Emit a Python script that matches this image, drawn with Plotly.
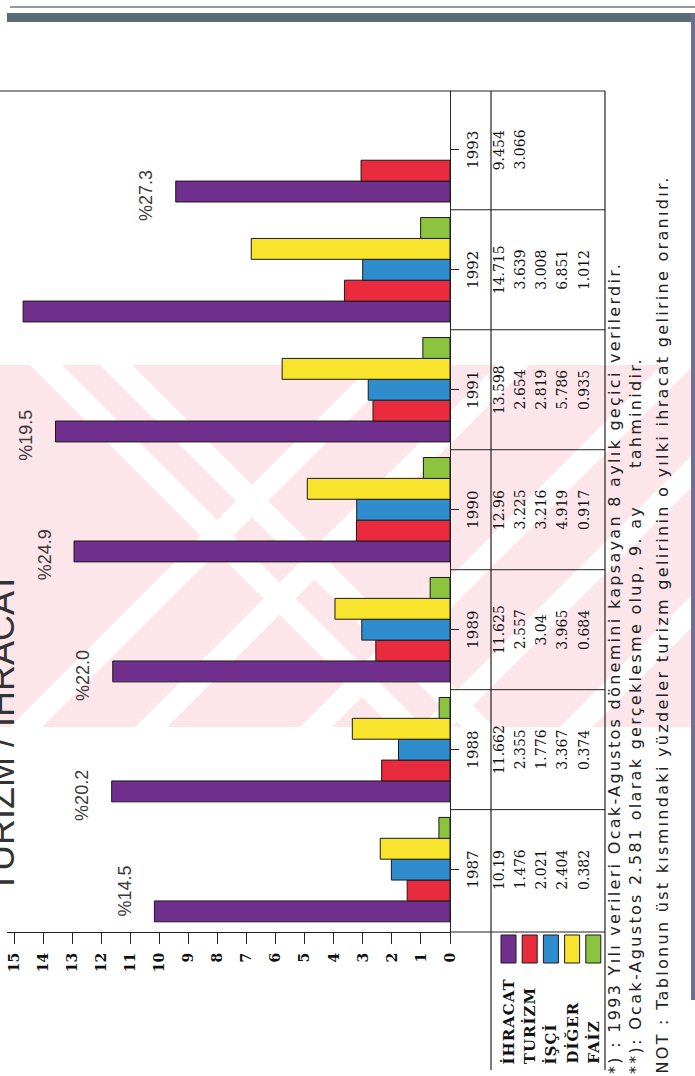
import json
import plotly.graph_objects as go

# ---- data -------------------------------------------------------------
years = ["1987", "1988", "1989", "1990", "1991", "1992", "1993"]
series_names = ["İHRACAT", "TURİZM", "İŞÇİ", "DİĞER", "FAİZ"]
ihracat = [10.19, 11.662, 11.625, 12.96, 13.598, 14.715, 9.454]
turizm = [1.476, 2.355, 2.557, 3.225, 2.654, 3.639, 3.066]
isci = [2.021, 1.776, 3.04, 3.216, 2.819, 3.008, None]
diger = [2.404, 3.367, 3.965, 4.919, 5.786, 6.851, None]
faiz = [0.382, 0.374, 0.684, 0.917, 0.935, 1.012, None]
turizm_pct = [14.5, 20.2, 22.0, 24.9, 19.5, None, 27.3]
value_ticks = list(range(0, 16))
title_text = "TURİZM / İHRACAT"
footnotes = [
    "*) : 1993 Yılı verileri Ocak-Agustos dönemini kapsayan 8 aylık geçici verilerdir.",
    "**): Ocak-Agustos 2.581 olarak gerçeklesme olup, 9. ay\u00a0\u00a0\u00a0\u00a0\u00a0tahminidir.",
    "NOT : Tablonun üst kısmındaki yüzdeler turizm gelirinin o yılki ihracat gelirine oranıdır.",
]

series = [ihracat, turizm, isci, diger, faiz]
colors = ["#72308e", "#ea2a3d", "#2f8ccd", "#f8e42c", "#8cc43f"]

# ---- page geometry (pixels) --------------------------------------------
W, H = 695, 1076
L, R, T, B = 7, 450, 91, 932          # plot area
TABLE_RIGHT = 605
YEAR_DIV = 491
ROW_X = [508.5 + 21.2 * s for s in range(len(series_names))]
NOTE_SPACING = 2.3                     # letter spacing of the footnotes, px
LEGEND_SPACING = 1.0                   # letter spacing of the legend labels, px


def px(x):
    return (x - L) / (R - L)


def py(y):
    return (B - y) / (B - T)


ypos = list(range(len(years)))

fig = go.Figure()
for name, vals, col in zip(series_names, series, colors):
    fig.add_trace(go.Bar(
        x=vals, y=ypos, orientation="h", name=name,
        marker=dict(color=col, line=dict(color="#1a1a1a", width=1)),
        showlegend=False, hoverinfo="skip",
    ))

shapes = []

# faint pink band with white diagonal stripes behind everything
band_top, band_bot = 365, 727
shapes.append(dict(type="rect", xref="paper", yref="paper", layer="below",
                   x0=px(0), x1=px(W), y0=py(band_bot), y1=py(band_top),
                   fillcolor="#fce6ea", line=dict(width=0)))
span = band_bot - band_top
sw = 32
for xb in [10, 135, 300, 420, 560]:
    pts = [(xb, band_bot), (xb + sw, band_bot), (xb + sw + span, band_top), (xb + span, band_top)]
    path = "M " + " L ".join(f"{px(a):.5f},{py(b):.5f}" for a, b in pts) + " Z"
    shapes.append(dict(type="path", xref="paper", yref="paper", layer="below",
                       path=path, fillcolor="white", line=dict(width=0)))
for xt in [30, 100]:
    pts = [(xt, band_top), (xt + sw, band_top), (xt + sw + span, band_bot), (xt + span, band_bot)]
    path = "M " + " L ".join(f"{px(a):.5f},{py(b):.5f}" for a, b in pts) + " Z"
    shapes.append(dict(type="path", xref="paper", yref="paper", layer="below",
                       path=path, fillcolor="white", line=dict(width=0)))

line_style = dict(color="#222", width=1.2)
# top rule over plot and table
shapes.append(dict(type="line", xref="paper", yref="paper",
                   x0=px(0), x1=px(TABLE_RIGHT), y0=py(T), y1=py(T), line=line_style))
# bottom rule of the table
shapes.append(dict(type="line", xref="paper", yref="paper",
                   x0=px(R), x1=px(TABLE_RIGHT), y0=py(B), y1=py(B), line=line_style))
# year divider and right border
for xv in [YEAR_DIV, TABLE_RIGHT]:
    shapes.append(dict(type="line", xref="paper", yref="paper",
                       x0=px(xv), x1=px(xv), y0=py(T), y1=py(1070), line=line_style))
# row separators between years
for i in range(len(years) - 1):
    shapes.append(dict(type="line", xref="paper", yref="y",
                       x0=px(R), x1=px(TABLE_RIGHT), y0=i + 0.5, y1=i + 0.5,
                       line=dict(color="#222", width=1)))
# legend swatches
for s, col in enumerate(colors):
    shapes.append(dict(type="rect", xref="paper", yref="paper",
                       x0=px(ROW_X[s] - 7.5), x1=px(ROW_X[s] + 7.5),
                       y0=py(963), y1=py(935), fillcolor=col,
                       line=dict(color="#1a1a1a", width=1)))
# scanned page edges
shapes.append(dict(type="line", xref="paper", yref="paper",
                   x0=px(10), x1=px(W), y0=py(7), y1=py(7), line=dict(color="#333", width=1)))
shapes.append(dict(type="rect", xref="paper", yref="paper",
                   x0=px(7), x1=px(W), y0=py(22), y1=py(13),
                   fillcolor="#5a6c76", line=dict(width=0)))
shapes.append(dict(type="rect", xref="paper", yref="paper",
                   x0=px(691), x1=px(W), y0=py(1000), y1=py(13),
                   fillcolor="#707094", line=dict(width=0)))

annotations = []
# percentage labels beside the export bars (first one kept clear of the axis)
for i, p in enumerate(turizm_pct):
    if p is None:
        continue
    annotations.append(dict(xref="x", yref="y", x=ihracat[i] + 1.0, y=max(i - 0.38, -0.18),
                            text=f"%{p:.1f}", textangle=-90, showarrow=False,
                            font=dict(family="Liberation Sans, Arial", size=18, color="#3a3a3a")))
# table: years and values
for i, yr in enumerate(years):
    annotations.append(dict(xref="paper", yref="y", x=px(484), y=i, text=yr,
                            textangle=-90, showarrow=False,
                            font=dict(family="DejaVu Serif", size=15, color="#111")))
    for s, vals in enumerate(series):
        v = vals[i]
        if v is None:
            continue
        annotations.append(dict(xref="paper", yref="y", x=px(ROW_X[s]), y=i, text=str(v),
                                textangle=-90, showarrow=False,
                                font=dict(family="DejaVu Serif", size=14, color="#111")))
# legend labels, starting just above the page foot
for s, name in enumerate(series_names):
    grow = LEGEND_SPACING * len(name) / 2
    annotations.append(dict(xref="paper", yref="paper", x=px(ROW_X[s]), y=py(1066 - grow),
                            xanchor="center", yanchor="bottom", text=name,
                            textangle=-90, showarrow=False,
                            font=dict(family="DejaVu Serif", size=15, color="#111", weight="bold")))
# title, running along the left edge
annotations.append(dict(xref="paper", yref="paper", x=px(24), y=py(895),
                        xanchor="right", yanchor="bottom", text=title_text,
                        textangle=-90, showarrow=False,
                        font=dict(family="Liberation Sans Narrow, Liberation Sans, Arial", size=36, color="#333")))
# footnotes; the start is shifted so the spaced-out text begins near the page foot
for xf, txt in zip([615, 635, 662], footnotes):
    grow = NOTE_SPACING * len(txt) / 2
    annotations.append(dict(xref="paper", yref="paper", x=px(xf), y=py(1076 - grow),
                            xanchor="center", yanchor="bottom", text=txt,
                            textangle=-90, showarrow=False,
                            font=dict(family="DejaVu Sans", size=16, color="#222")))

fig.update_layout(
    width=W, height=H,
    margin=dict(l=L, r=W - R, t=T, b=H - B, pad=0),
    paper_bgcolor="white", plot_bgcolor="rgba(0,0,0,0)",
    barmode="group", bargap=0.13, bargroupgap=0,
    showlegend=False, shapes=shapes, annotations=annotations,
)
fig.update_xaxes(
    range=[15.27, 0], tickmode="array", tickvals=value_ticks,
    ticktext=[str(v) for v in value_ticks], tickangle=-90,
    ticks="outside", ticklen=11, tickwidth=1, tickcolor="#222",
    showline=True, linecolor="#222", linewidth=1.3,
    showgrid=False, zeroline=False, ticklabelstandoff=3,
    tickfont=dict(family="DejaVu Serif", size=14, color="#111", weight="bold"),
)
fig.update_yaxes(
    range=[-0.52, 6.49], side="right", tickmode="array", tickvals=ypos,
    showticklabels=False, ticks="outside", ticklen=8, tickcolor="#222",
    showline=True, linecolor="#222", linewidth=1.3,
    showgrid=False, zeroline=False,
)

# spaced-out lettering for the footnotes and legend labels
spacing_js = """
var gd = document.getElementById('{plot_id}');
var notes = %s;
var names = %s;
gd.querySelectorAll('.annotation-text').forEach(function (t) {
  if (notes.indexOf(t.textContent) >= 0) { t.style.letterSpacing = '%spx'; }
  else if (names.indexOf(t.textContent) >= 0) { t.style.letterSpacing = '%spx'; }
});
""" % (json.dumps(footnotes), json.dumps(series_names), NOTE_SPACING, LEGEND_SPACING)

fig.write_html("out.html", post_script=spacing_js)
